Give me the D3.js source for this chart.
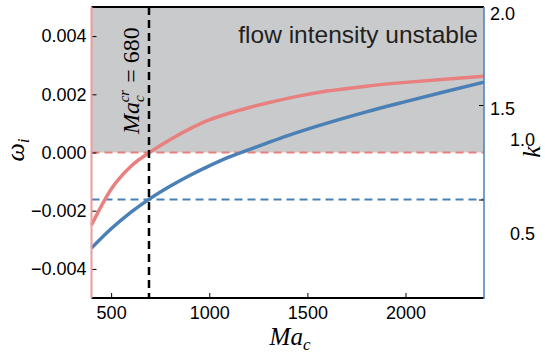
<!DOCTYPE html>
<html>
<head>
<meta charset="utf-8">
<script src="https://cdn.jsdelivr.net/npm/d3@7"></script>
<style>
  body { margin: 0; background: #fff; }
  svg { display: block; }
  .tick text { font-family: "Liberation Sans", Arial, sans-serif; font-size: 18px; fill: #000; }
</style>
</head>
<body>
<svg width="545" height="353"></svg>
<script>
// values
const mach = [400, 500, 600, 700, 800, 900, 1000, 1100, 1200, 1300, 1400, 1600, 1800, 2000, 2200, 2400];
const omega = [-0.00249, -0.00126, -0.00048, 0.00002, 0.00044, 0.00081, 0.00112, 0.00135, 0.00154, 0.00171, 0.00186, 0.00211, 0.00228, 0.00241, 0.00252, 0.00262];
const kVals = [0.743, 0.845, 0.932, 1.006, 1.070, 1.127, 1.178, 1.224, 1.263, 1.301, 1.338, 1.404, 1.464, 1.518, 1.570, 1.621];
const machCrit = 693;   // where the dashed line is drawn
const kCrit = 1.0;
const xTicks = [500, 1000, 1500, 2000];
const omegaTicks = [-0.004, -0.002, 0, 0.002, 0.004];
const kUpperTicks = [2.0, 1.5];
const kLowerTicks = [1.0, 0.5];
const kTickMarks = [1.5, 1.0];

const pink = "#e88080";
const blue = "#4a80b5";

const svg = d3.select("svg");
const pLeft = 91.5, pRight = 484, pTop = 7, pBottom = 298;

const x = d3.scaleLinear().domain([400, 2400]).range([pLeft, pRight]);
const y = d3.scaleLinear().domain([-0.005, 0.005]).range([pBottom, pTop]);
const k = d3.scaleLinear().domain([0.479, 2.0185]).range([pBottom, pTop]);
// the lower k labels sit higher than their ticks in the original
const kLabel = d3.scaleLinear().domain(k.domain()).range([pBottom - 60, pTop - 60]);

// unstable region
svg.append("rect")
    .attr("x", pLeft)
    .attr("y", y(0.005))
    .attr("width", pRight - pLeft)
    .attr("height", y(0) - y(0.005))
    .attr("fill", "#c9cacc");

// reference lines
svg.append("line")
    .attr("x1", pLeft).attr("x2", pRight)
    .attr("y1", y(0)).attr("y2", y(0))
    .attr("stroke", pink).attr("stroke-width", 2)
    .attr("stroke-dasharray", "8,5");

svg.append("line")
    .attr("x1", pLeft).attr("x2", pRight)
    .attr("y1", k(kCrit)).attr("y2", k(kCrit))
    .attr("stroke", blue).attr("stroke-width", 2)
    .attr("stroke-dasharray", "8,5");

// curves
const pts = mach.map((m, i) => ({ m: m, w: omega[i], k: kVals[i] }));

svg.append("path")
    .datum(pts)
    .attr("fill", "none")
    .attr("stroke", blue)
    .attr("stroke-width", 3.5)
    .attr("d", d3.line().curve(d3.curveMonotoneX).x(d => x(d.m)).y(d => k(d.k)));

svg.append("path")
    .datum(pts)
    .attr("fill", "none")
    .attr("stroke", pink)
    .attr("stroke-width", 3.5)
    .attr("d", d3.line().curve(d3.curveMonotoneX).x(d => x(d.m)).y(d => y(d.w)));

svg.append("line")
    .attr("x1", x(machCrit)).attr("x2", x(machCrit))
    .attr("y1", pTop).attr("y2", pBottom)
    .attr("stroke", "#000").attr("stroke-width", 2.5)
    .attr("stroke-dasharray", "8,5");

// axes
const gx = svg.append("g")
    .attr("transform", `translate(0,${pBottom})`)
    .call(d3.axisBottom(x).tickValues(xTicks).tickSize(-5).tickPadding(8).tickFormat(d3.format("d")));
gx.select(".domain").remove();

const gy = svg.append("g")
    .attr("transform", `translate(${pLeft},0)`)
    .call(d3.axisLeft(y).tickValues(omegaTicks).tickSize(-5).tickPadding(5).tickFormat(d3.format(".3f")));
gy.select(".domain").remove();

const gk = svg.append("g")
    .attr("transform", `translate(${pRight},0)`)
    .call(d3.axisRight(k).tickValues(kTickMarks).tickSize(-5).tickFormat(""));
gk.select(".domain").remove();

const gkUp = svg.append("g")
    .attr("transform", `translate(${pRight},0)`)
    .call(d3.axisRight(k).tickValues(kUpperTicks).tickSize(0).tickPadding(6).tickFormat(d3.format(".1f")));
gkUp.select(".domain").remove();
gkUp.selectAll(".tick line").remove();
gkUp.selectAll(".tick text").attr("dy", "0.5em");

const gkLow = svg.append("g")
    .attr("transform", `translate(${pRight},0)`)
    .call(d3.axisRight(kLabel).tickValues(kLowerTicks).tickSize(0).tickPadding(26).tickFormat(d3.format(".1f")));
gkLow.select(".domain").remove();
gkLow.selectAll(".tick line").remove();

// spines
svg.append("line").attr("x1", pLeft).attr("x2", pRight).attr("y1", pTop).attr("y2", pTop)
    .attr("stroke", "#000").attr("stroke-width", 2);
svg.append("line").attr("x1", pLeft).attr("x2", pRight).attr("y1", pBottom).attr("y2", pBottom)
    .attr("stroke", "#000").attr("stroke-width", 2);
svg.append("line").attr("x1", pLeft).attr("x2", pLeft).attr("y1", pTop).attr("y2", pBottom)
    .attr("stroke", "#f09a9a").attr("stroke-width", 2);
svg.append("line").attr("x1", pRight).attr("x2", pRight).attr("y1", pTop).attr("y2", pBottom + 1)
    .attr("stroke", blue).attr("stroke-width", 1.5);

// texts
svg.append("text")
    .attr("x", 478).attr("y", 43)
    .attr("text-anchor", "end")
    .attr("font-family", "Liberation Sans, Arial, sans-serif")
    .attr("font-size", 24.5)
    .attr("fill", "#231f20")
    .text("flow intensity unstable");

const serif = "Liberation Serif, DejaVu Serif, serif";

const xl = svg.append("text")
    .attr("x", 290).attr("y", 345)
    .attr("text-anchor", "middle")
    .attr("font-family", serif).attr("font-style", "italic").attr("font-size", 25);
xl.append("tspan").text("Ma");
xl.append("tspan").attr("font-size", 17).attr("dy", 5).text("c");

const yl = svg.append("text")
    .attr("transform", "translate(24,150) rotate(-90)")
    .attr("text-anchor", "middle")
    .attr("font-family", serif).attr("font-style", "italic").attr("font-size", 26);
yl.append("tspan").text("ω");
yl.append("tspan").attr("font-size", 17).attr("dy", 5).text("i");

svg.append("text")
    .attr("transform", "translate(540,152) rotate(-90)")
    .attr("text-anchor", "middle")
    .attr("font-family", serif).attr("font-style", "italic").attr("font-size", 26)
    .text("k");

const ann = svg.append("text")
    .attr("transform", `translate(${x(machCrit) - 10},134) rotate(-90)`)
    .attr("text-anchor", "start")
    .attr("font-family", serif).attr("font-size", 24);
ann.append("tspan").attr("font-style", "italic").text("Ma");
ann.append("tspan").attr("font-style", "italic").attr("font-size", 15).attr("dy", 5).text("c");
ann.append("tspan").attr("font-style", "italic").attr("font-size", 15).attr("dx", -7).attr("dy", -15).text("cr");
ann.append("tspan").attr("dy", 10).attr("dx", 7).text("= 680");
</script>
</body>
</html>
